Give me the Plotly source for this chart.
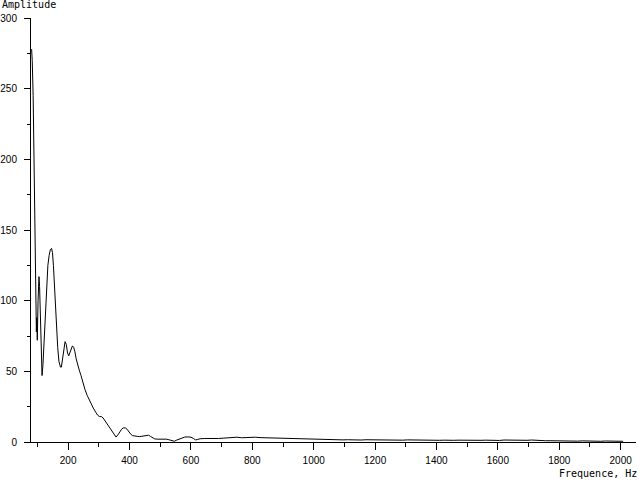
import plotly.graph_objects as go

freq_head = [81, 83, 86, 89, 92, 95, 96.5, 98, 99.5, 102, 105, 107, 110, 113, 115, 118, 122, 126, 130,
             134, 138, 142, 146, 149, 152, 155, 158, 162, 166, 170, 175, 178, 182, 186, 190, 194, 198,
             202, 206, 210, 214, 218, 222, 226, 230, 236, 242, 248, 255, 262, 268, 275, 282, 290, 296,
             302, 308, 314, 320, 327, 334, 340, 346, 352, 356, 362, 368, 374, 380, 386, 392, 398, 404,
             410, 418, 425, 432, 440, 448, 455, 462, 468, 475, 482, 490, 500, 510, 520, 530, 540, 546,
             552, 560, 570, 580, 590, 600, 608, 615, 622]
amp_head = [278, 270, 245, 205, 150, 95, 78, 88, 72, 100, 117, 110, 80, 55, 47, 55, 75, 95, 112,
            125, 132, 136, 137, 134, 125, 110, 95, 80, 67, 57, 53, 53, 60, 68, 71, 69, 63,
            61, 63, 66, 68, 67, 64, 59, 55, 51, 47, 42, 37, 33, 30, 27, 24, 21, 19,
            18, 18, 17, 15, 13, 10, 8, 6, 4, 3.5, 5, 7, 9, 10, 10, 9, 7, 5.5,
            4.5, 4, 4, 3.8, 4, 4.5, 4.8, 4.8, 4, 3, 2.2, 2.0, 2, 2.2, 2, 1.5, 0.8, 0.5,
            1.2, 2, 2.8, 3.5, 3.6, 3.4, 2.5, 1.5, 1.8]

freq_tail = [630, 645, 660, 675, 690, 705, 720, 735, 750, 765, 780, 795, 810, 825, 840, 855, 870, 885,
             900, 915, 930, 945, 960, 975, 990, 1005, 1020, 1035, 1050, 1065, 1080, 1095, 1110, 1125,
             1140, 1155, 1170, 1185, 1200, 1215, 1230, 1245, 1260, 1275, 1290, 1305, 1320, 1335, 1350,
             1365, 1380, 1395, 1410, 1425, 1440, 1455, 1470, 1485, 1500, 1515, 1530, 1545, 1560, 1575,
             1590, 1605, 1620, 1635, 1650, 1665, 1680, 1695, 1710, 1725, 1740, 1755, 1770, 1785, 1800,
             1815, 1830, 1845, 1860, 1875, 1890, 1905, 1920, 1935, 1950, 1965, 1980, 1995, 2008]
amp_tail = [2.3, 2.5, 2.4, 2.6, 2.5, 2.7, 3.0, 3.6, 3.4, 3.0, 3.2, 3.6, 3.4, 3.1, 3.0, 3.0, 2.8, 3.0,
            2.8, 2.6, 2.5, 2.4, 2.2, 1.9, 1.8, 1.7, 1.8, 1.6, 1.7, 1.5, 1.6, 1.5, 1.6, 1.4,
            1.5, 1.4, 1.6, 1.5, 1.4, 1.5, 1.6, 1.4, 1.5, 1.4, 1.3, 1.5, 1.4, 1.3, 1.5,
            1.4, 1.3, 1.4, 1.2, 1.3, 1.1, 1.2, 1.3, 1.2, 1.5, 1.3, 1.4, 1.2, 1.3, 1.1,
            1.2, 1.1, 1.4, 1.3, 1.5, 1.3, 1.4, 1.2, 1.4, 1.1, 1.0, 0.9, 0.9, 0.8, 0.7,
            0.8, 0.6, 0.7, 0.6, 0.8, 0.6, 0.7, 0.6, 0.5, 0.7, 0.6, 0.5, 0.7, 0.5]

freq = freq_head + freq_tail
amp = amp_head + amp_tail

y_label = "Amplitude"
x_label = "Frequence, Hz"

fig = go.Figure()
fig.add_trace(go.Scatter(x=freq, y=amp, mode="lines",
                         line=dict(color="black", width=1), showlegend=False, hoverinfo="skip"))

tick_font = dict(family="Liberation Sans, Arial, sans-serif", size=10, color="black")
lab_font = dict(family="DejaVu Sans Mono, monospace", size=10, color="black")

fig.update_layout(
    template="none",
    width=640, height=480,
    margin=dict(l=31, r=4, t=18, b=38, autoexpand=False),
    paper_bgcolor="white", plot_bgcolor="white",
    xaxis=dict(range=[79, 2050], tick0=0, dtick=200, ticks="outside", ticklen=7, tickwidth=1,
               tickcolor="black", showline=True, linecolor="black", linewidth=1, automargin=False,
               showgrid=False, zeroline=False, tickfont=tick_font, ticklabelstandoff=2,
               minor=dict(tick0=0, dtick=100, ticks="outside", ticklen=4, tickcolor="black", showgrid=False)),
    yaxis=dict(range=[0, 300], tick0=0, dtick=50, ticks="outside", ticklen=6, tickwidth=1,
               tickcolor="black", showline=True, linecolor="black", linewidth=1, automargin=False,
               showgrid=False, zeroline=False, tickfont=tick_font, ticklabelstandoff=5,
               minor=dict(tick0=0, dtick=25, ticks="outside", ticklen=3, tickcolor="black", showgrid=False)),
    annotations=[
        dict(text=y_label, xref="paper", yref="paper", x=-31/605, y=(442-5)/424,
             xanchor="left", yanchor="middle", showarrow=False, font=lab_font),
        dict(text=x_label, xref="paper", yref="paper", x=(639-31)/605, y=(442-473)/424,
             xanchor="right", yanchor="middle", showarrow=False, font=lab_font),
    ],
)

fig.write_html("out.html", config={"displayModeBar": False},
               post_script="document.body.style.margin='0px';document.body.style.overflow='hidden';")
